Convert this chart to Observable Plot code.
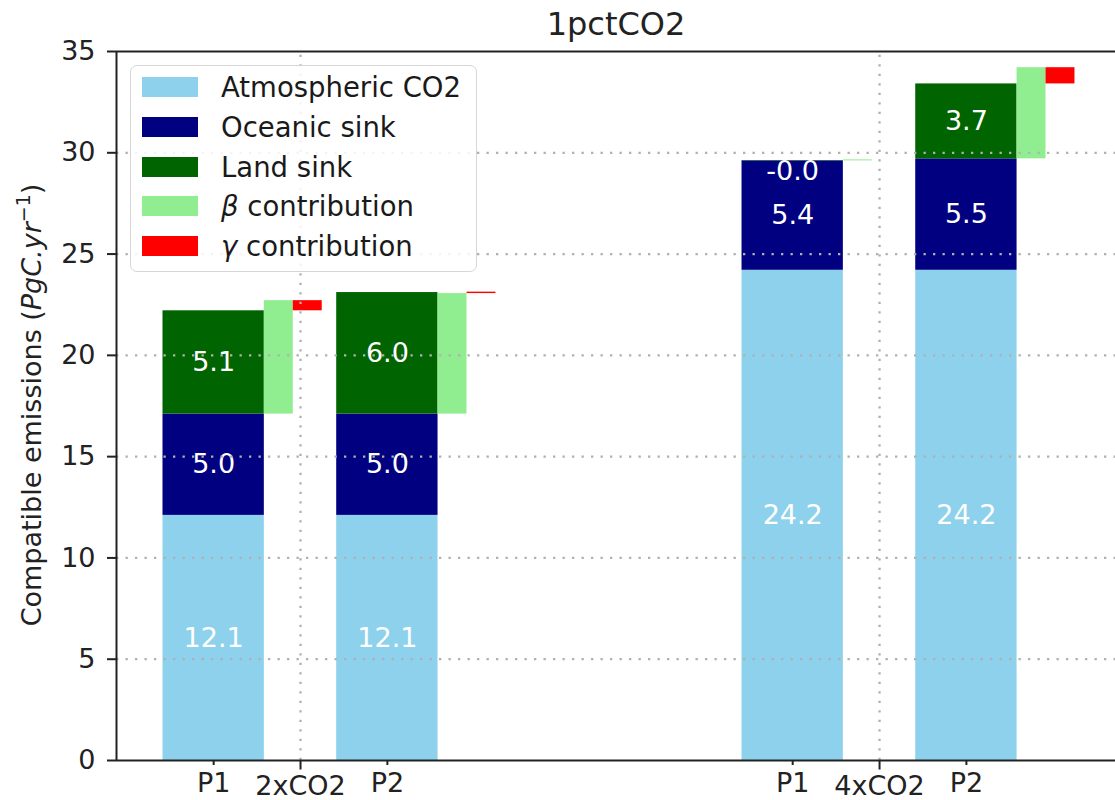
<!DOCTYPE html>
<html><head><meta charset="utf-8">
<script src="https://cdn.jsdelivr.net/npm/d3@7"></script>
<script src="https://cdn.jsdelivr.net/npm/@observablehq/plot@0.6"></script>
<style>
body{margin:0;background:#fff;font-family:"DejaVu Sans",sans-serif;}
#wrap{position:relative;width:1115px;height:800px;overflow:hidden;}
.legend{position:absolute;left:130px;top:65px;width:347px;height:207px;box-sizing:border-box;border:1.5px solid #d6d6d6;border-radius:7px;background:rgba(255,255,255,0.85);font-size:27.5px;color:#1a1a1a;}
.legend .row{position:absolute;left:11px;height:40px;display:flex;align-items:center;white-space:nowrap;}
.legend .sw{width:56px;height:20px;margin-right:23px;}
</style></head>
<body><div id="wrap"></div>
<script>
// ---- data ----
const scenarios = ["2xCO2", "4xCO2"];
const periods = ["P1", "P2"];
const atmospheric = [12.1, 12.1, 24.2, 24.2];
const oceanic = [5.0, 5.0, 5.4, 5.5];
const landSink = [5.1, 6.0, -0.02, 3.7];
const betaContribution = [5.6, 5.95, 0.05, 4.5];
const gammaContribution = [-0.5, 0.07, 0.0, -0.8];
const yTicks = [0, 5, 10, 15, 20, 25, 30, 35];
const legendLabels = ["Atmospheric CO2", "Oceanic sink", "Land sink", "<i>β</i> contribution", "<i>γ</i> contribution"];

// ---- layout / style ----
const colors = {atm: "#8dd1ec", ocean: "#000080", land: "#006400", beta: "#90ee90", gamma: "#ff0000"};
const groupPos = [1, 3];
const periodOffset = [-0.3, 0.3];
const barW = 0.35, sideW = 0.1;
const xDomain = [0.3644, 3.815];

const rects = [], labels = [];
scenarios.forEach((s, si) => periods.forEach((p, pi) => {
  const i = si * 2 + pi;
  const c = groupPos[si] + periodOffset[pi];
  const a = atmospheric[i], o = oceanic[i], l = landSink[i], b = betaContribution[i], g = gammaContribution[i];
  const bx1 = c - barW / 2, bx2 = c + barW / 2;
  rects.push({x1: bx1, x2: bx2, y1: 0, y2: a, fill: colors.atm});
  rects.push({x1: bx1, x2: bx2, y1: a, y2: a + o, fill: colors.ocean});
  rects.push({x1: bx1, x2: bx2, y1: a + o, y2: a + o + l, fill: colors.land});
  if (b !== 0) rects.push({x1: bx2, x2: bx2 + sideW, y1: a + o, y2: a + o + b, fill: colors.beta});
  if (g !== 0) rects.push({x1: bx2 + sideW, x2: bx2 + 2 * sideW, y1: a + o + b, y2: a + o + b + g, fill: colors.gamma});
  [[0, a], [a, o], [a + o, l]].forEach(([base, v]) => {
    labels.push({x: c, y: Math.abs(v) < 0.5 ? Math.max(base, base + v) : base + v / 2, text: v.toFixed(1), small: Math.abs(v) < 0.5});
  });
}));

const majorTicks = groupPos;
const minorTicks = groupPos.flatMap(g => periodOffset.map(o => g + o));
const minorLabels = groupPos.flatMap(() => periods);

const gridStyle = {stroke: "#b0b0b0", strokeWidth: 2.3, strokeDasharray: "2.3,7.2"};

const chart = Plot.plot({
  width: 1115, height: 800,
  marginLeft: 116, marginRight: 0, marginTop: 51, marginBottom: 40,
  style: {fontFamily: "DejaVu Sans, sans-serif", fontSize: "27px", color: "#222", background: "white", overflow: "visible"},
  x: {type: "linear", domain: xDomain},
  y: {domain: [0, 35]},
  color: {type: "identity"},
  marks: [
    Plot.rect(rects, {x1: "x1", x2: "x2", y1: "y1", y2: "y2", fill: "fill"}),
    Plot.text(labels.filter(d => !d.small), {x: "x", y: "y", text: "text", fill: "white", fontSize: 27}),
    Plot.text(labels.filter(d => d.small), {x: "x", y: "y", text: "text", fill: "white", fontSize: 27, lineAnchor: "top"}),
    Plot.ruleY(yTicks.filter(t => t > 0 && t < 35), {...gridStyle}),
    Plot.ruleX(majorTicks, {y1: 0, y2: 35, ...gridStyle}),
    Plot.ruleY([0, 35], {stroke: "#222", strokeWidth: 2}),
    Plot.ruleX([xDomain[0]], {y1: 0, y2: 35, stroke: "#222", strokeWidth: 2}),
    Plot.axisY(yTicks, {tickSize: 9, tickPadding: 12, label: null, strokeWidth: 2, fontSize: 27}),
    Plot.axisX(majorTicks, {tickSize: 9.5, tickPadding: 6, label: null, strokeWidth: 2, fontSize: 27,
      tickFormat: d => scenarios[majorTicks.indexOf(d)]}),
    Plot.axisX(minorTicks, {tickSize: 5, tickPadding: 7, label: null, strokeWidth: 2, fontSize: 27,
      tickFormat: d => minorLabels[minorTicks.indexOf(d)]})
  ]
});

const wrap = document.getElementById("wrap");
wrap.appendChild(chart);

// title and y label (text)
const svg = d3.select(chart);
svg.append("text").attr("x", 616).attr("y", 35).attr("text-anchor", "middle")
  .attr("font-size", 32).attr("fill", "#222").text("1pctCO2");
const yl = svg.append("text").attr("transform", "translate(41,405) rotate(-90)")
  .attr("text-anchor", "middle").attr("font-size", 27).attr("fill", "#222");
yl.append("tspan").text("Compatible emissions (");
yl.append("tspan").attr("font-style", "italic").text("PgC.yr");
yl.append("tspan").attr("font-size", 19).attr("dy", -11).text("−1");
yl.append("tspan").attr("dy", 11).text(")");

// legend
const legendColors = [colors.atm, colors.ocean, colors.land, colors.beta, colors.gamma];
const leg = document.createElement("div");
leg.className = "legend";
legendLabels.forEach((lab, i) => {
  const row = document.createElement("div");
  row.className = "row";
  row.style.top = (1 + i * 39.8) + "px";
  row.innerHTML = `<span class="sw" style="background:${legendColors[i]}"></span><span>${lab}</span>`;
  leg.appendChild(row);
});
wrap.appendChild(leg);
</script>
</body></html>
